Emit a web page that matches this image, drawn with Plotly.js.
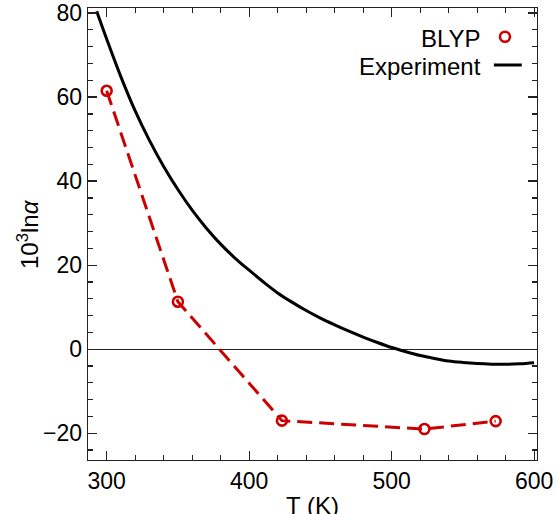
<!DOCTYPE html>
<html>
<head>
<meta charset="utf-8">
<script src="https://cdn.plot.ly/plotly-3.0.1.min.js"></script>
<style>html,body{margin:0;padding:0;background:#fff;}#chart{width:559px;height:514px;}</style>
</head>
<body>
<div id="chart"></div>
<script>
// BLYP computed points
var blypT = [300, 350, 423, 523, 573];
var blypVal = [61.5, 11.3, -17.0, -19.0, -17.1];

// Experiment curve
var expT = [293, 300, 310, 320, 330, 340, 350, 360, 370, 380, 390, 400, 410, 420, 430, 440, 450, 460, 470, 480, 490, 500, 510, 520, 530, 540, 550, 560, 570, 580, 590, 600];
var expVal = [80.4, 73.8, 64.8, 56.7, 49.7, 43.5, 38.0, 33.1, 28.8, 25.0, 21.7, 18.8, 16.0, 13.4, 11.2, 9.2, 7.4, 5.8, 4.3, 2.9, 1.6, 0.4, -0.6, -1.5, -2.2, -2.8, -3.15, -3.4, -3.55, -3.6, -3.45, -3.2];

var legendLabels = ['BLYP', 'Experiment'];
var xTitle = 'T (K)';
var yTitle = '10<sup>3</sup>ln<i>α</i>';
var red = '#cc0000';
var font = 'Liberation Sans, Arial, Helvetica, sans-serif';

var traces = [
  {
    x: expT, y: expVal, type: 'scatter', mode: 'lines', name: legendLabels[1],
    line: {color: '#000', width: 3, shape: 'spline', smoothing: 1},
    showlegend: false
  },
  {
    x: blypT, y: blypVal, type: 'scatter', mode: 'lines+markers', name: legendLabels[0],
    line: {color: red, width: 3, dash: '15px,7px'},
    marker: {symbol: 'circle-open', size: 10, color: red, line: {color: red, width: 2.6}},
    showlegend: false
  }
];

var axisCommon = {
  showline: true, linecolor: '#222', linewidth: 1.3, mirror: 'allticks',
  ticks: 'inside', ticklen: 9, tickwidth: 1.3, tickcolor: '#222',
  showgrid: false, tickfont: {family: font, size: 23, color: '#000'}
};

var titleFont = {family: font, size: 24, color: '#000'};

var layout = {
  width: 559, height: 514,
  margin: {l: 88, r: 22, t: 8, b: 54},
  paper_bgcolor: '#fff', plot_bgcolor: '#fff',
  font: {family: font, color: '#000'},
  xaxis: Object.assign({}, axisCommon, {
    range: [286.9, 602], dtick: 100, tick0: 0, zeroline: false,
    minor: {dtick: 20, ticks: 'inside', ticklen: 5, tickwidth: 1.3, tickcolor: '#222'}
  }),
  yaxis: Object.assign({}, axisCommon, {
    range: [-26.36, 81.19], dtick: 20, tick0: 0,
    zeroline: true, zerolinecolor: '#222', zerolinewidth: 1.3,
    minor: {dtick: 4, ticks: 'inside', ticklen: 5, tickwidth: 1.3, tickcolor: '#222'}
  }),
  showlegend: false,
  annotations: [
    {xref: 'paper', yref: 'paper', x: 0.5, y: -0.1, xanchor: 'center', yanchor: 'middle',
     text: xTitle, showarrow: false, font: titleFont},
    {xref: 'paper', yref: 'paper', x: -0.1336, y: 0.5, xanchor: 'center', yanchor: 'middle',
     text: yTitle, textangle: -90, showarrow: false, font: titleFont},
    {xref: 'paper', yref: 'paper', x: 0.8797, y: 0.9336, xanchor: 'right', yanchor: 'middle',
     text: legendLabels[0], showarrow: false, font: titleFont},
    {xref: 'paper', yref: 'paper', x: 0.8797, y: 0.8700, xanchor: 'right', yanchor: 'middle',
     text: legendLabels[1], showarrow: false, font: titleFont}
  ],
  shapes: [
    {type: 'circle', xref: 'paper', yref: 'paper', xsizemode: 'pixel', ysizemode: 'pixel',
     xanchor: 0.9287, yanchor: 0.9365, x0: -5, x1: 5, y0: -5, y1: 5,
     line: {color: red, width: 2.6}, fillcolor: 'rgba(0,0,0,0)'},
    {type: 'line', xref: 'paper', yref: 'paper', x0: 0.904, x1: 0.966, y0: 0.8739, y1: 0.8739,
     line: {color: '#000', width: 3}}
  ]
};

Plotly.newPlot('chart', traces, layout, {displayModeBar: false, staticPlot: true});
</script>
</body>
</html>
